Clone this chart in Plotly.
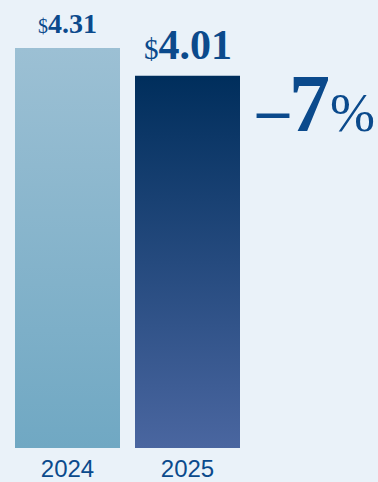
import plotly.graph_objects as go

# ---- data ----
years = ["2024", "2025"]
values = [4.31, 4.01]

# ---- style ----
bg = "#EAF2F9"
text_col = "#0B4A8C"
grad = [("#70A8C3", "#9CC0D4"), ("#4A66A0", "#002E5C")]  # (bottom, top)
bar_w = 0.875
serif = "Liberation Serif"
sans = "Liberation Sans"

fig = go.Figure()
for i, (yr, v) in enumerate(zip(years, values)):
    x0, x1 = i - bar_w / 2, i + bar_w / 2
    fig.add_trace(go.Scatter(
        x=[x0, x0, x1, x1, x0], y=[0, v, v, 0, 0],
        mode="lines", line=dict(width=0), fill="toself",
        fillgradient=dict(type="vertical", colorscale=[[0, grad[i][0]], [1, grad[i][1]]]),
        hoverinfo="skip", showlegend=False,
    ))

label_sizes = [28, 42]
dollar_sizes = [20, 29]
yshifts = [7, 6]
for i, v in enumerate(values):
    fig.add_annotation(
        x=i, y=v, xref="x", yref="y", yanchor="bottom", yshift=yshifts[i], showarrow=False,
        text=f"<span style='font-size:{dollar_sizes[i]}px;font-weight:normal'>$</span><b>{v:.2f}</b>",
        font=dict(family=serif, size=label_sizes[i], color=text_col),
    )

pct = round((values[1] - values[0]) / values[0] * 100)
sign = "–" if pct < 0 else "+"
fig.add_annotation(
    x=1 + bar_w / 2, y=values[1], xref="x", yref="y", xanchor="left", yanchor="top",
    xshift=14, yshift=20, showarrow=False,
    text=(f"<span style='font-size:64px'><b>{sign}</b></span>"
          f"<b>{abs(pct)}</b>"
          f"<span style='font-size:54px;font-weight:normal'>%</span>"),
    font=dict(family=serif, size=82, color=text_col),
)

fig.update_layout(
    width=378, height=482,
    margin=dict(l=0, r=0, t=0, b=34),
    paper_bgcolor=bg, plot_bgcolor=bg,
    xaxis=dict(range=[-0.5625, 2.5875], tickvals=list(range(len(years))), ticktext=years,
               showgrid=False, zeroline=False, showline=False, ticks="",
               ticklabelstandoff=4,
               tickfont=dict(family=sans, size=24, color=text_col), fixedrange=True),
    yaxis=dict(range=[0, 448 / (400 / values[0])], visible=False, fixedrange=True),
)
fig.write_html("out.html")
